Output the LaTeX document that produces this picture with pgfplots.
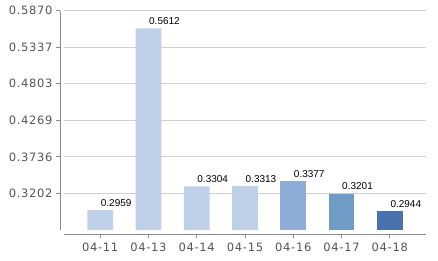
\documentclass[border=0pt]{standalone}
\usepackage{pgfplots}
\pgfplotsset{compat=1.18}
\usepackage{fontspec}
\setmainfont{DejaVu Sans}
\newfontfamily\tickfont{DejaVu Sans}[LetterSpace=6]
\newfontfamily\valfont{Liberation Sans}
\definecolor{barA}{HTML}{BFD0E8}
\definecolor{barB}{HTML}{8EADD6}
\definecolor{barC}{HTML}{709BC4}
\definecolor{barD}{HTML}{4A72AE}
\definecolor{gridc}{HTML}{D0D0D0}
\definecolor{axisc}{HTML}{8C8C8C}
\definecolor{tickc}{HTML}{555555}
\begin{document}
\begin{tikzpicture}
\begin{axis}[
  at={(64pt,30pt)}, anchor=south west,
  scale only axis, width=362pt, height=219.3pt,
  xmin=-0.75, xmax=6.75, ymin=0.26684, ymax=0.5870,
  axis lines*=left, axis line shift=4pt,
  axis line style={axisc, line width=1pt},
  tick align=outside, major tick length=4pt,
  tick style={axisc, line width=1pt},
  xtick={0,1,2,3,4,5,6},
  xticklabels={04-11,04-13,04-14,04-15,04-16,04-17,04-18},
  ytick={0.3202,0.3736,0.4269,0.4803,0.5337,0.5870},
  yticklabels={0.3202,0.3736,0.4269,0.4803,0.5337,\raisebox{-3pt}{0.5870}},
  ticklabel style={font=\tickfont\fontsize{11.5}{13}\selectfont, text=tickc},
  xticklabel style={yshift=-1.5pt},
  ymajorgrids, grid style={gridc, line width=1pt},
  ybar, bar width=25.7pt, bar shift=0pt,
  point meta=y,
  nodes near coords={\pgfmathprintnumber[fixed,fixed zerofill,precision=4,assume math mode=true]{\pgfplotspointmeta}},
  every node near coord/.append style={anchor=south west, inner sep=0pt, yshift=3.4pt, xshift=0.5pt, font=\valfont\fontsize{10}{12}\selectfont, text=black},
]
\addplot[fill=barA, draw=none] coordinates {(0,0.2959) (1,0.5612) (2,0.3304) (3,0.3313)};
\addplot[fill=barB, draw=none] coordinates {(4,0.3377)};
\addplot[fill=barC, draw=none] coordinates {(5,0.3201)};
\addplot[fill=barD, draw=none] coordinates {(6,0.2944)};
\end{axis}
\pgfresetboundingbox
\path (0,0) rectangle (438pt,260pt);
\end{tikzpicture}
\end{document}
